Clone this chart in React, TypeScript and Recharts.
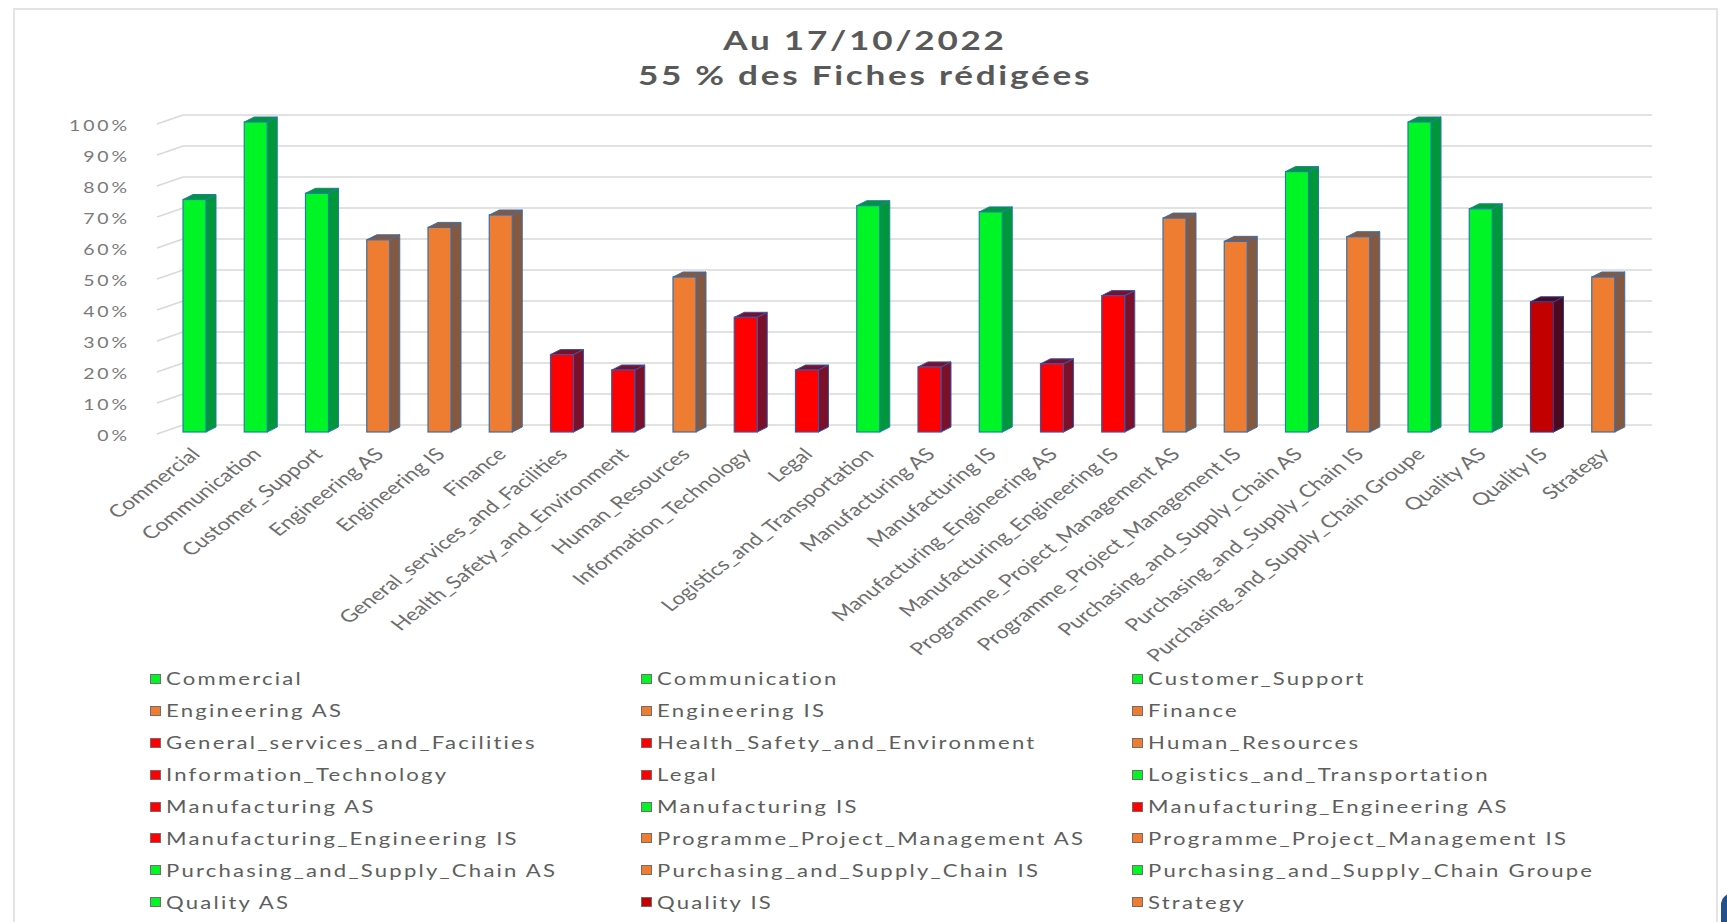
import { BarChart, Bar, XAxis, YAxis, CartesianGrid, Legend } from 'recharts'

const categories = [
  'Commercial',
  'Communication',
  'Customer_Support',
  'Engineering AS',
  'Engineering IS',
  'Finance',
  'General_services_and_Facilities',
  'Health_Safety_and_Environment',
  'Human_Resources',
  'Information_Technology',
  'Legal',
  'Logistics_and_Transportation',
  'Manufacturing AS',
  'Manufacturing IS',
  'Manufacturing_Engineering AS',
  'Manufacturing_Engineering IS',
  'Programme_Project_Management AS',
  'Programme_Project_Management IS',
  'Purchasing_and_Supply_Chain AS',
  'Purchasing_and_Supply_Chain IS',
  'Purchasing_and_Supply_Chain Groupe',
  'Quality AS',
  'Quality IS',
  'Strategy',
]

const completion = [
  0.75, 1.0, 0.77, 0.62, 0.66, 0.7, 0.25, 0.2, 0.5, 0.37, 0.2, 0.73,
  0.21, 0.71, 0.22, 0.44, 0.69, 0.615, 0.84, 0.63, 1.0, 0.72, 0.42, 0.5,
]

// ok = green, partial = orange, late = red, critical = dark red
const status = [
  'ok', 'ok', 'ok', 'partial', 'partial', 'partial', 'late', 'late', 'partial', 'late', 'late', 'ok',
  'late', 'ok', 'late', 'late', 'partial', 'partial', 'ok', 'partial', 'ok', 'ok', 'critical', 'partial',
]

const yTicks = [0, 0.1, 0.2, 0.3, 0.4, 0.5, 0.6, 0.7, 0.8, 0.9, 1]

const titleLines = ['Au 17/10/2022', '55 % des Fiches rédigées']

const palette: Record<string, { front: string; side: string; edge: string }> = {
  ok: { front: '#00f526', side: '#00963a', edge: '#1f7fa0' },
  partial: { front: '#ee7d31', side: '#85593f', edge: '#3a6ea8' },
  late: { front: '#ff0000', side: '#7a1029', edge: '#3b55a8' },
  critical: { front: '#c20000', side: '#4b0a1e', edge: '#2f3f8f' },
}

const data = categories.map((name, i) => ({ name, value: completion[i], status: status[i] }))

const FONT = 'Lato, "Open Sans", sans-serif'
const STRETCH = 1.3

function Bar3D(props: any) {
  const { x, y, width, height, payload } = props
  const c = palette[payload.status]
  const d = 10
  const dy = 5
  const fw = width - d
  return (
    <g>
      <polygon
        points={`${x + fw},${y} ${x + fw + d},${y - dy} ${x + fw + d},${y + height - dy} ${x + fw},${y + height}`}
        fill={c.side}
        stroke={c.edge}
        strokeWidth={1}
      />
      <polygon
        points={`${x},${y} ${x + d},${y - dy} ${x + fw + d},${y - dy} ${x + fw},${y}`}
        fill={c.side}
        stroke={c.edge}
        strokeWidth={1}
      />
      <rect x={x} y={y} width={fw} height={height} fill={c.front} stroke={c.edge} strokeWidth={1.2} />
    </g>
  )
}

function XTick(props: any) {
  const { x, y, payload } = props
  return (
    <text
      transform={`translate(${x - 4},${y + 11}) scale(${STRETCH},1) rotate(-45)`}
      textAnchor="end"
      dy="0.35em"
      fontFamily={FONT}
      fontSize={17.5}
      fill="#6e6e6e"
    >
      {payload.value}
    </text>
  )
}

function YTick(props: any) {
  const { x, y, payload } = props
  return (
    <text
      transform={`translate(${x},${y + 4}) scale(${STRETCH},1)`}
      textAnchor="end"
      dy="0.35em"
      fontFamily={FONT}
      fontSize={15}
      letterSpacing={2.2}
      fill="#7a7a7a"
    >
      {Math.round(payload.value * 100) + '%'}
    </text>
  )
}

function GridLine(props: any) {
  const { x1, x2, y1, index } = props
  return (
    <path
      key={'grid-' + index}
      d={`M${x1 - 12},${y1 + 2} L${x1 + 14},${y1 - 7} L${x2 + 13},${y1 - 7}`}
      fill="none"
      stroke="#d9d9d9"
      strokeWidth={1.6}
    />
  )
}

function renderLegend() {
  return (
    <div
      style={{
        display: 'grid',
        gridTemplateColumns: '491px 491px 491px',
        gridAutoRows: '31.9px',
        paddingLeft: 150,
        fontFamily: FONT,
        fontSize: 17,
        color: '#5e5e5e',
      }}
    >
      {data.map((d) => (
        <div key={d.name} style={{ display: 'flex', alignItems: 'center', whiteSpace: 'nowrap' }}>
          <span
            style={{
              display: 'inline-block',
              width: 11,
              height: 10,
              background: palette[d.status].front,
              border: '1px solid #7a6a6a',
              boxSizing: 'border-box',
              marginRight: 5,
            }}
          />
          <span
            style={{
              display: 'inline-block',
              transform: `scaleX(${STRETCH})`,
              transformOrigin: 'left center',
              letterSpacing: 1.7,
            }}
          >
            {d.name}
          </span>
        </div>
      ))}
    </div>
  )
}

export default function App() {
  return (
    <div style={{ position: 'absolute', left: 0, top: 0, width: 1727, height: 922, background: '#fff', overflow: 'hidden' }}>
      <div
        style={{
          position: 'absolute',
          left: 13,
          top: 8,
          width: 1705,
          height: 940,
          border: '2px solid #e3e3e3',
          boxSizing: 'border-box',
        }}
      />
      <div
        style={{
          position: 'absolute',
          left: 1721,
          top: 893,
          width: 14,
          height: 40,
          background: '#24508a',
          borderTopLeftRadius: 12,
        }}
      />
      <div
        style={{
          position: 'absolute',
          left: 365,
          top: 22,
          width: 1000,
          textAlign: 'center',
          fontFamily: FONT,
          fontWeight: 700,
          fontSize: 27,
          lineHeight: '35px',
          letterSpacing: 2.1,
          color: '#595959',
          transform: `scaleX(${STRETCH})`,
          transformOrigin: 'center',
        }}
      >
        {titleLines.map((t) => (
          <div key={t}>{t}</div>
        ))}
      </div>
      <div style={{ position: 'absolute', left: 0, top: 0 }}>
        <BarChart width={1727} height={922} data={data} margin={{ top: 122, right: 88, bottom: 460, left: 99 }}>
          <CartesianGrid vertical={false} horizontal={GridLine} />
          <XAxis
            dataKey="name"
            interval={0}
            height={30}
            axisLine={false}
            tickLine={false}
            tick={<XTick />}
          />
          <YAxis
            domain={[0, 1]}
            ticks={yTicks}
            width={70}
            axisLine={false}
            tickLine={false}
            tickMargin={33}
            tick={<YTick />}
          />
          <Legend
            layout="horizontal"
            verticalAlign="middle"
            align="center"
            content={renderLegend}
            wrapperStyle={{ left: 0, top: 663, width: 1727, height: 260 }}
          />
          <Bar dataKey="value" barSize={33} shape={<Bar3D />} isAnimationActive={false} />
        </BarChart>
      </div>
    </div>
  )
}
